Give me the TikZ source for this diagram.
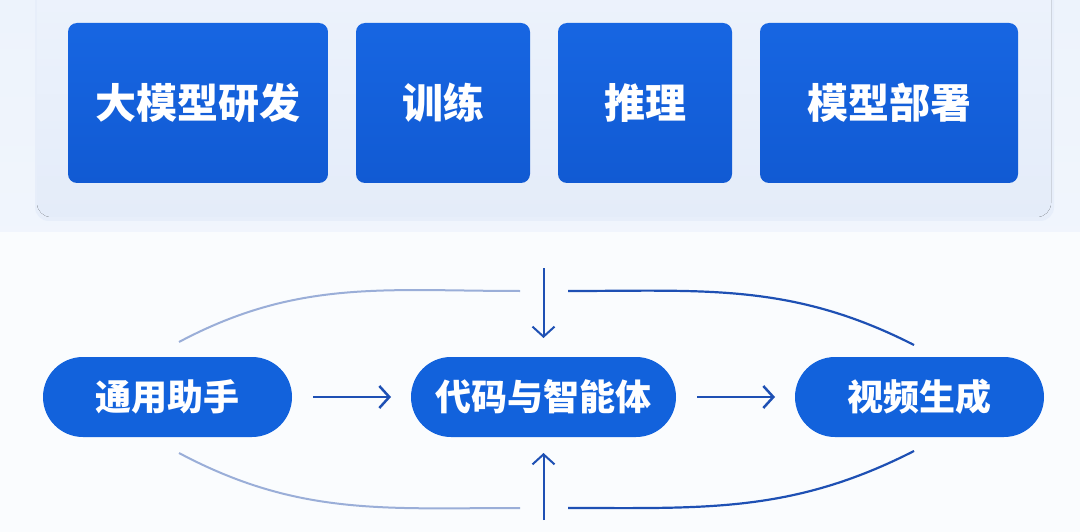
\documentclass[tikz,border=0pt]{standalone}
\usepackage{fontspec}
\newfontfamily\cjk{Noto Sans CJK SC}
\usepackage{tikz}
\usetikzlibrary{arrows.meta,positioning}
\definecolor{bgtop}{HTML}{EDF3FC}
\definecolor{bgbot}{HTML}{FAFCFE}
\definecolor{pnl}{HTML}{E4ECF9}
\definecolor{stage}{HTML}{1766E2}
\definecolor{stagedk}{HTML}{115AD3}
\definecolor{app}{HTML}{1262DC}
\definecolor{ink}{HTML}{1E50B4}
\definecolor{fade}{HTML}{9AAED8}

\begin{document}
\begin{tikzpicture}[
  x=1pt, y=-1pt, >={Straight Barb[length=10pt,width=22pt]},
  stagebox/.style={rounded corners=9pt, top color=stage, bottom color=stagedk, draw=none, outer sep=0pt,
    minimum height=160pt, text=white, font=\cjk\bfseries\fontsize{41}{48}\selectfont},
  pill/.style={rounded corners=40pt, fill=app, draw=none, outer sep=0pt, minimum height=80pt,
    text=white, font=\cjk\bfseries\fontsize{36}{42}\selectfont},
  e/.style={->, line width=2.5pt, draw=ink},
  loopl/.style={line width=2pt, draw=fade},
  loopr/.style={line width=2.2pt, draw=ink}
]
\useasboundingbox (0,0) rectangle (1080,532);
% background and panel
\fill[bgbot] (0,0) rectangle (1080,532);
\fill[top color=bgtop, bottom color=bgtop!80!white] (0,0) rectangle (1080,232);
\fill[pnl!70!bgtop, rounded corners=14pt] (35,-30) rectangle (1054,221);
\fill[top color=bgtop, bottom color=pnl, rounded corners=14pt] (37,-30) rectangle (1051,217);

% top row
\node[stagebox, minimum width=260pt] (dev) at (198,103) {大模型研发};
\node[stagebox, minimum width=174pt, right=28pt of dev] (train) {训练};
\node[stagebox, minimum width=174pt, right=28pt of train] (infer) {推理};
\node[stagebox, minimum width=258pt, right=28pt of infer] (deploy) {模型部署};

% bottom row
\node[pill, minimum width=249pt] (assist) at (167.5,397) {通用助手};
\node[pill, minimum width=265pt, right=119pt of assist] (agent) {代码与智能体};
\node[pill, minimum width=249pt, right=119pt of agent] (video) {视频生成};
\coordinate[above=89pt of agent.north] (tin);
\coordinate[below=83pt of agent.south] (bin);

\draw[e, shorten <=21pt, shorten >=20pt] (assist) -- (agent);
\draw[e, shorten <=21pt, shorten >=20pt] (agent) -- (video);
\draw[e, line width=2pt, shorten >=19pt] (tin) -- (agent.north);
\draw[e, line width=2pt, shorten >=16pt] (bin) -- (agent.south);

% loop around the row
\coordinate (tl) at (179,342);
\coordinate (tm) at (520,291);
\coordinate (tr) at (568,291);
\coordinate (te) at (914,345);
\coordinate (bl) at (179,453);
\coordinate (bm) at (520,508);
\coordinate (br) at (568,508);
\coordinate (be) at (914,451);
\draw[loopl] (tl) to[out=28, in=180] (tm);
\draw[loopl] (bl) to[out=-28, in=180] (bm);
\draw[loopr] (tr) to[out=0, in=153] (te);
\draw[loopr] (br) to[out=0, in=-153] (be);
\end{tikzpicture}
\end{document}
